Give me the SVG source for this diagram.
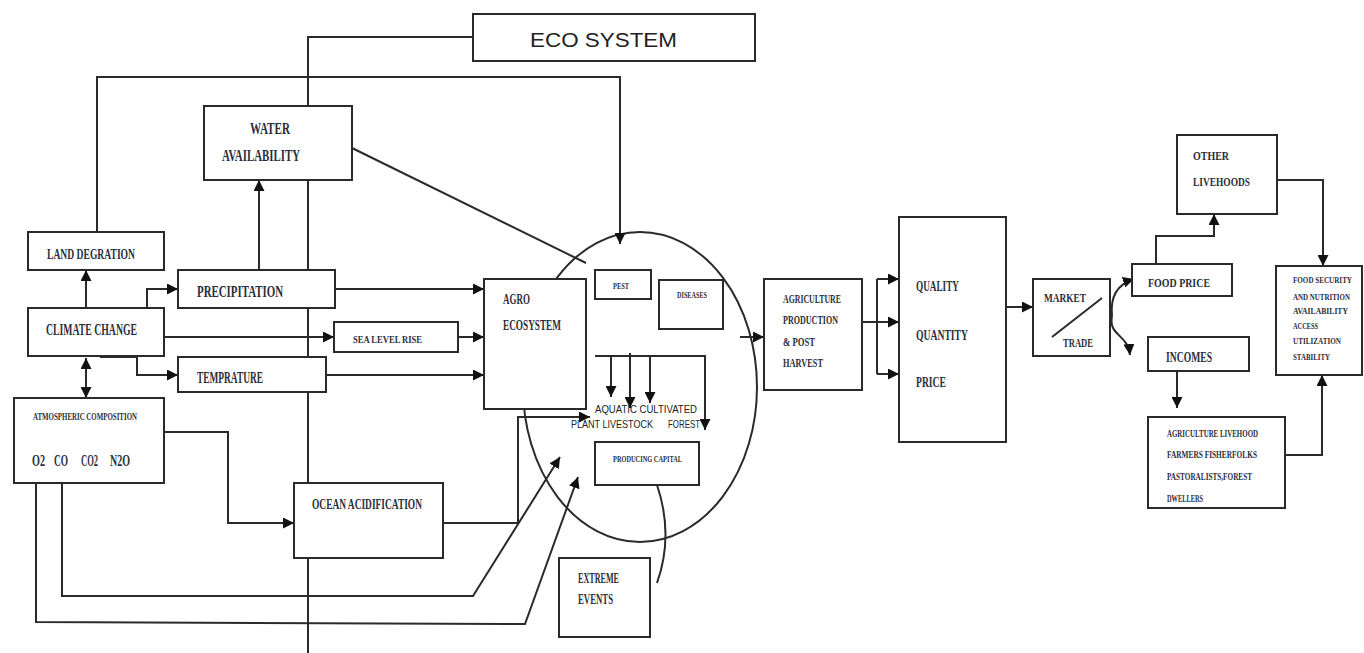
<svg xmlns="http://www.w3.org/2000/svg" width="1364" height="653" viewBox="0 0 1364 653">
<style>
.b{fill:#fff;stroke:#2a2a2a;stroke-width:2}
.c{fill:none;stroke:#2a2a2a;stroke-width:2}
.a{marker-end:url(#ah)}
.t{font-family:"Liberation Serif",serif;font-weight:bold;fill:#2a2e3a}
.s{font-family:"Liberation Sans",sans-serif;fill:#222}
</style>
<defs>
<marker id="ah" viewBox="0 0 10 10" refX="10" refY="5" markerWidth="11" markerHeight="11" markerUnits="userSpaceOnUse" orient="auto-start-reverse"><path d="M0,0 L10,5 L0,10 z" fill="#111"/></marker>
</defs>
<rect width="1364" height="653" fill="#fff"/>
<ellipse cx="640" cy="387" rx="117" ry="155" class="c"/>
<g id="connectors">
<path class="c" d="M473,37 H308 V653"/>
<path class="c a" d="M97,232 V77 H620 V244"/>
<path class="c" d="M352,148 L586,263"/>
<path class="c a" d="M86,308 V270"/>
<path class="c a" d="M120,308 H147 V289 H178"/>
<path class="c a" d="M259,270 V180"/>
<path class="c a" d="M164,337 H334"/>
<path class="c a" d="M100,357 H137 V375 H178"/>
<path class="c a" d="M86,358 V398" marker-start="url(#ah)"/>
<path class="c a" d="M335,289 H484"/>
<path class="c a" d="M458,337 H484"/>
<path class="c a" d="M326,375 H484"/>
<path class="c a" d="M164,432 H228 V523 H294"/>
<path class="c a" d="M443,523 H518 V417 H590"/>
<path class="c a" d="M62,483 V596 H473 L560,457"/>
<path class="c a" d="M36,483 V622 L525,624 L578,477"/>
<path class="c a" d="M595,356 H705 V430"/>
<path class="c a" d="M611,356 V397"/>
<path class="c a" d="M630,353 V408"/>
<path class="c a" d="M650,356 V403"/>
<path class="c" d="M657,485 Q674,535 657,583"/>
<path class="c a" d="M740,337 H764"/>
<path class="c" d="M862,322 H877 M877,279 V374"/>
<path class="c a" d="M877,279 H899"/>
<path class="c a" d="M877,322 H899"/>
<path class="c a" d="M877,374 H899"/>
<path class="c a" d="M1006,307 H1033"/>
<path class="c a" d="M1112,316 C1110,296 1118,284 1134,279"/>
<path class="c a" d="M1112,316 C1108,336 1128,334 1130,355"/>
<path class="c a" d="M1156,264 V236 H1214 V214"/>
<path class="c a" d="M1277,180 H1323 V266"/>
<path class="c a" d="M1177,371 V408"/>
<path class="c a" d="M1285,455 H1322 V375"/>
</g>
<g id="eco-system"><rect class="b" x="473" y="14" width="282" height="47"/><text class="s" x="530" y="47" font-size="21" textLength="147" lengthAdjust="spacingAndGlyphs">ECO SYSTEM</text></g>
<g id="water-availability"><rect class="b" x="204" y="106" width="148" height="74"/><text class="t" x="250" y="134" font-size="17" textLength="40" lengthAdjust="spacingAndGlyphs">WATER</text><text class="t" x="222" y="161" font-size="17" textLength="78" lengthAdjust="spacingAndGlyphs">AVAILABILITY</text></g>
<g id="land-degration"><rect class="b" x="28" y="232" width="136" height="38"/><text class="t" x="47" y="259" font-size="15" textLength="88" lengthAdjust="spacingAndGlyphs">LAND DEGRATION</text></g>
<g id="precipitation"><rect class="b" x="178" y="270" width="157" height="38"/><text class="t" x="197" y="297" font-size="17" textLength="86" lengthAdjust="spacingAndGlyphs">PRECIPITATION</text></g>
<g id="climate-change"><rect class="b" x="28" y="308" width="136" height="48"/><text class="t" x="46" y="335" font-size="17" textLength="91" lengthAdjust="spacingAndGlyphs">CLIMATE  CHANGE</text></g>
<g id="sea-level-rise"><rect class="b" x="334" y="322" width="124" height="30"/><text class="t" x="353" y="343" font-size="10" textLength="69" lengthAdjust="spacingAndGlyphs">SEA LEVEL RISE</text></g>
<g id="temprature"><rect class="b" x="178" y="357" width="148" height="35"/><text class="t" x="197" y="383" font-size="16" textLength="66" lengthAdjust="spacingAndGlyphs">TEMPRATURE</text></g>
<g id="atmospheric-composition"><rect class="b" x="14" y="398" width="150" height="85"/><text class="t" x="33" y="420" font-size="10" textLength="104" lengthAdjust="spacingAndGlyphs">ATMOSPHERIC COMPOSITION</text><text class="t" x="32" y="466" font-size="16" textLength="13" lengthAdjust="spacingAndGlyphs">O2</text><text class="t" x="54" y="466" font-size="16" textLength="14" lengthAdjust="spacingAndGlyphs">CO</text><text class="t" x="81" y="466" font-size="16" textLength="17" lengthAdjust="spacingAndGlyphs">CO2</text><text class="t" x="110" y="466" font-size="16" textLength="20" lengthAdjust="spacingAndGlyphs">N2O</text></g>
<g id="ocean-acidification"><rect class="b" x="294" y="483" width="149" height="75"/><text class="t" x="312" y="509" font-size="14" textLength="110" lengthAdjust="spacingAndGlyphs">OCEAN ACIDIFICATION</text></g>
<g id="agro-ecosystem"><rect class="b" x="484" y="279" width="102" height="130"/><text class="t" x="503" y="304" font-size="15" textLength="27" lengthAdjust="spacingAndGlyphs">AGRO</text><text class="t" x="503" y="330" font-size="15" textLength="58" lengthAdjust="spacingAndGlyphs">ECOSYSTEM</text></g>
<g id="pest"><rect class="b" x="595" y="270" width="56" height="29"/><text class="t" x="613" y="289" font-size="9" textLength="16" lengthAdjust="spacingAndGlyphs">PEST</text></g>
<g id="diseases"><rect class="b" x="659" y="280" width="64" height="49"/><text class="t" x="677" y="298" font-size="9" textLength="30" lengthAdjust="spacingAndGlyphs">DISEASES</text></g>
<g id="species"><text class="s" x="595" y="413" font-size="11" textLength="102" lengthAdjust="spacingAndGlyphs">AQUATIC CULTIVATED</text><text class="s" x="571" y="428" font-size="11" textLength="82" lengthAdjust="spacingAndGlyphs">PLANT LIVESTOCK</text><text class="s" x="668" y="428" font-size="11" textLength="32" lengthAdjust="spacingAndGlyphs">FOREST</text></g>
<g id="producing-capital"><rect class="b" x="595" y="442" width="104" height="43"/><text class="t" x="613" y="462" font-size="9" textLength="69" lengthAdjust="spacingAndGlyphs">PRODUCING CAPITAL</text></g>
<g id="extreme-events"><rect class="b" x="559" y="558" width="91" height="79"/><text class="t" x="578" y="583" font-size="14" textLength="41" lengthAdjust="spacingAndGlyphs">EXTREME</text><text class="t" x="578" y="604" font-size="14" textLength="35" lengthAdjust="spacingAndGlyphs">EVENTS</text></g>
<g id="agriculture-production"><rect class="b" x="764" y="279" width="98" height="111"/><text class="t" x="783" y="303" font-size="13" textLength="58" lengthAdjust="spacingAndGlyphs">AGRICULTURE</text><text class="t" x="783" y="324" font-size="13" textLength="55" lengthAdjust="spacingAndGlyphs">PRODUCTION</text><text class="t" x="783" y="346" font-size="13" textLength="32" lengthAdjust="spacingAndGlyphs">&amp; POST</text><text class="t" x="783" y="367" font-size="13" textLength="40" lengthAdjust="spacingAndGlyphs">HARVEST</text></g>
<g id="quality-quantity-price"><rect class="b" x="899" y="217" width="107" height="225"/><text class="t" x="916" y="291" font-size="14" textLength="43" lengthAdjust="spacingAndGlyphs">QUALITY</text><text class="t" x="916" y="340" font-size="14" textLength="52" lengthAdjust="spacingAndGlyphs">QUANTITY</text><text class="t" x="916" y="387" font-size="14" textLength="30" lengthAdjust="spacingAndGlyphs">PRICE</text></g>
<g id="market-trade"><rect class="b" x="1033" y="279" width="77" height="77"/><path class="c" d="M1052,337 L1102,298"/><text class="t" x="1044" y="302" font-size="13" textLength="42" lengthAdjust="spacingAndGlyphs">MARKET</text><text class="t" x="1063" y="347" font-size="13" textLength="30" lengthAdjust="spacingAndGlyphs">TRADE</text></g>
<g id="food-price"><rect class="b" x="1132" y="264" width="100" height="32"/><text class="t" x="1148" y="287" font-size="12" textLength="62" lengthAdjust="spacingAndGlyphs">FOOD PRICE</text></g>
<g id="other-livehoods"><rect class="b" x="1177" y="135" width="100" height="79"/><text class="t" x="1193" y="160" font-size="13" textLength="36" lengthAdjust="spacingAndGlyphs">OTHER</text><text class="t" x="1193" y="186" font-size="13" textLength="57" lengthAdjust="spacingAndGlyphs">LIVEHOODS</text></g>
<g id="incomes"><rect class="b" x="1148" y="337" width="101" height="34"/><text class="t" x="1166" y="362" font-size="15" textLength="46" lengthAdjust="spacingAndGlyphs">INCOMES</text></g>
<g id="agriculture-livehood"><rect class="b" x="1148" y="417" width="137" height="91"/><text class="t" x="1167" y="437" font-size="11" textLength="91" lengthAdjust="spacingAndGlyphs">AGRICULTURE LIVEHOOD</text><text class="t" x="1167" y="458" font-size="11" textLength="90" lengthAdjust="spacingAndGlyphs">FARMERS FISHERFOLKS</text><text class="t" x="1167" y="480" font-size="11" textLength="85" lengthAdjust="spacingAndGlyphs">PASTORALISTS,FOREST</text><text class="t" x="1167" y="502" font-size="11" textLength="36" lengthAdjust="spacingAndGlyphs">DWELLERS</text></g>
<g id="food-security"><rect class="b" x="1276" y="266" width="86" height="109"/><text class="t" x="1293" y="283" font-size="8" textLength="59" lengthAdjust="spacingAndGlyphs">FOOD SECURITY</text><text class="t" x="1293" y="300" font-size="8" textLength="57" lengthAdjust="spacingAndGlyphs">AND NUTRITION</text><text class="t" x="1293" y="314" font-size="8" textLength="55" lengthAdjust="spacingAndGlyphs">AVAILABILITY</text><text class="t" x="1293" y="329" font-size="8" textLength="25" lengthAdjust="spacingAndGlyphs">ACCESS</text><text class="t" x="1293" y="344" font-size="8" textLength="48" lengthAdjust="spacingAndGlyphs">UTILIZATION</text><text class="t" x="1293" y="360" font-size="8" textLength="37" lengthAdjust="spacingAndGlyphs">STABILITY</text></g>
</svg>
